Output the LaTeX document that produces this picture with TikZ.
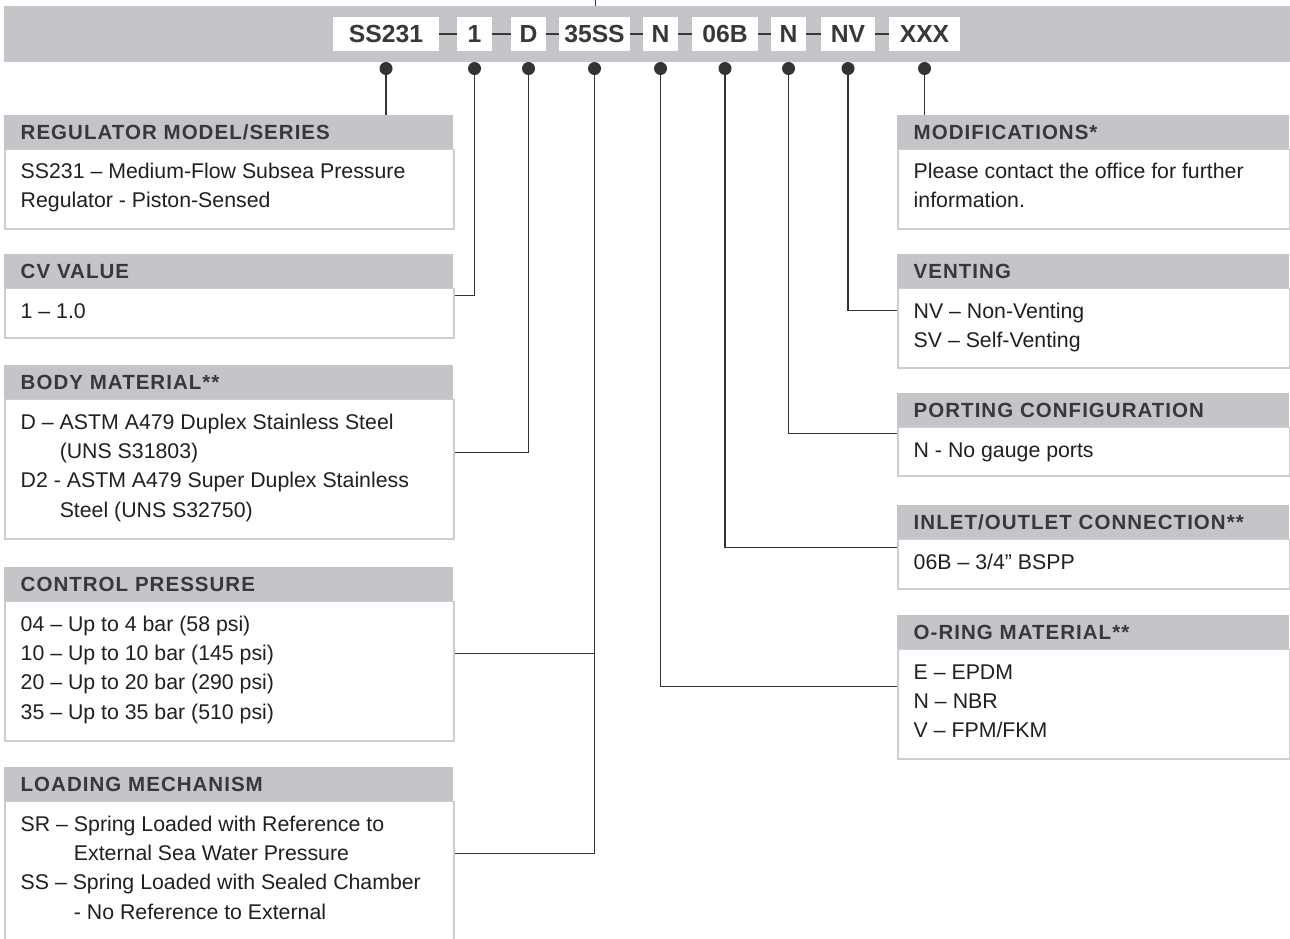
\documentclass[tikz,border=0pt]{standalone}
\usepackage{fontspec}
\setmainfont{Liberation Sans}
\newfontfamily\headfont[LetterSpace=5]{Liberation Sans}
\usepackage{tikz}
\usetikzlibrary{positioning}
\definecolor{bargray}{HTML}{C4C5C8}
\definecolor{boxline}{HTML}{CDCED0}
\definecolor{headtext}{HTML}{38383A}
\definecolor{bodytext}{HTML}{231F20}
\definecolor{leadgray}{HTML}{333333}
\tikzstyle{bullet}=[circle,fill=leadgray,inner sep=0,minimum size=13pt]
\tikzset{codebox/.style={
  rectangle,fill=white,inner sep=0,minimum height=34pt,
  text=headtext,font=\fontsize{24.7}{28}\selectfont\bfseries
}}
\tikzset{
  head/.style={
    rectangle,fill=bargray,anchor=north west,
    inner xsep=16.5pt,inner ysep=0,
    minimum height=33.5pt,text height=14.5pt,text depth=0pt,
    text width=#1,align=left,text=headtext,
    font=\headfont\fontsize{20.5}{23}\selectfont\bfseries
  }
}
\tikzset{
  body/.style={
    rectangle,draw=boxline,line width=1.5pt,fill=white,
    anchor=north west,inner sep=0
  }
}
\tikzset{
  info/.style={
    anchor=north west,inner sep=0,align=left,text=bodytext,
    font=\fontsize{21.3}{29.3}\selectfont
  }
}
\tikzset{wire/.style={draw=leadgray,line width=1.5pt}}
\tikzset{joint/.style={draw=headtext,line width=2.5pt}}
\newcommand{\firstline}{\rule{0pt}{16pt}}

\begin{document}
\begin{tikzpicture}[x=1pt,y=-1pt]
\useasboundingbox (0,0) rectangle (1290,938);

% code bar
\node[fill=bargray,inner sep=0,anchor=north west,minimum width=1286pt,minimum height=56pt] (bar) at (4,6) {};
\coordinate (tick) at (595,0);
\draw[wire,line width=1pt] (tick) -- (tick |- bar.north);

\node[codebox,minimum width=106pt] (cmodel) at (386,34) {SS231};
\node[codebox,minimum width=35pt] (ccv) at (474.5,34) {1};
\node[codebox,minimum width=35pt] (cmat) at (528.5,34) {D};
\node[codebox,minimum width=71pt] (cctrl) at (594.5,34) {35SS};
\node[codebox,minimum width=35pt] (coring) at (660.5,34) {N};
\node[codebox,minimum width=66pt] (cinlet) at (725,34) {06B};
\node[codebox,minimum width=35pt] (cport) at (788.5,34) {N};
\node[codebox,minimum width=54pt] (cvent) at (848,34) {NV};
\node[codebox,minimum width=71pt] (cmods) at (924.5,34) {XXX};

\draw[joint] (cmodel) -- (ccv);
\draw[joint] (ccv) -- (cmat);
\draw[joint] (cmat) -- (cctrl);
\draw[joint] (cctrl) -- (coring);
\draw[joint] (coring) -- (cinlet);
\draw[joint] (cinlet) -- (cport);
\draw[joint] (cport) -- (cvent);
\draw[joint] (cvent) -- (cmods);

\node[bullet] (pmodel) at (386,68.5) {};
\node[bullet] (pcv) at (474.5,68.5) {};
\node[bullet] (pmat) at (528.5,68.5) {};
\node[bullet] (pctrl) at (594.5,68.5) {};
\node[bullet] (poring) at (660.5,68.5) {};
\node[bullet] (pinlet) at (725,68.5) {};
\node[bullet] (pport) at (788.5,68.5) {};
\node[bullet] (pvent) at (848,68.5) {};
\node[bullet] (pmods) at (924.5,68.5) {};

% left column
\node[head=416pt] (modelH) at (4,115) {REGULATOR MODEL/SERIES};
\node[body,minimum width=449pt,minimum height=79.5pt] (modelB) at (modelH.south west) {};
\node[info] (modelT) at ([xshift=16.5pt,yshift=-13.5pt]modelB.north west)
  {\firstline SS231 – Medium-Flow Subsea Pressure\\Regulator - Piston-Sensed};

\node[head=416pt] (cvH) at (4,254) {CV VALUE};
\node[body,minimum width=449pt,minimum height=49.5pt] (cvB) at (cvH.south west) {};
\node[info] (cvT) at ([xshift=16.5pt,yshift=-14pt]cvB.north west) {\firstline 1 – 1.0};

\node[head=416pt] (matH) at (4,365) {BODY MATERIAL**};
\node[body,minimum width=449pt,minimum height=139.5pt] (matB) at (matH.south west) {};
\node[info] (matT) at ([xshift=16.5pt,yshift=-14pt]matB.north west)
  {\firstline D – ASTM A479 Duplex Stainless Steel\\\phantom{D – }(UNS S31803)\\
   D2 - ASTM A479 Super Duplex Stainless\\\phantom{D – }Steel (UNS S32750)};

\node[head=416pt] (ctrlH) at (4,567) {CONTROL PRESSURE};
\node[body,minimum width=449pt,minimum height=139.5pt] (ctrlB) at (ctrlH.south west) {};
\node[info] (ctrlT) at ([xshift=16.5pt,yshift=-14pt]ctrlB.north west)
  {\firstline 04 – Up to 4 bar (58 psi)\\10 – Up to 10 bar (145 psi)\\
   20 – Up to 20 bar (290 psi)\\35 – Up to 35 bar (510 psi)};

\node[head=416pt] (loadH) at (4,767) {LOADING MECHANISM};
\node[body,minimum width=449pt,minimum height=150pt] (loadB) at (loadH.south west) {};
\node[info] (loadT) at ([xshift=16.5pt,yshift=-14pt]loadB.north west)
  {\firstline SR – Spring Loaded with Reference to\\\phantom{SR – }External Sea Water Pressure\\
   SS – Spring Loaded with Sealed Chamber\\\phantom{SR – }- No Reference to External};

% right column
\node[head=359pt] (modsH) at (897,115) {MODIFICATIONS*};
\node[body,minimum width=392pt,minimum height=79.5pt] (modsB) at (modsH.south west) {};
\node[info] (modsT) at ([xshift=16.5pt,yshift=-13.5pt]modsB.north west)
  {\firstline Please contact the office for further\\information.};

\node[head=359pt] (ventH) at (897,254) {VENTING};
\node[body,minimum width=392pt,minimum height=79.5pt] (ventB) at (ventH.south west) {};
\node[info] (ventT) at ([xshift=16.5pt,yshift=-14pt]ventB.north west)
  {\firstline NV – Non-Venting\\SV – Self-Venting};

\node[head=359pt] (portH) at (897,393) {PORTING CONFIGURATION};
\node[body,minimum width=392pt,minimum height=48.5pt] (portB) at (portH.south west) {};
\node[info] (portT) at ([xshift=16.5pt,yshift=-14pt]portB.north west) {\firstline N - No gauge ports};

\node[head=359pt] (inletH) at (897,505) {INLET/OUTLET CONNECTION**};
\node[body,minimum width=392pt,minimum height=49.5pt] (inletB) at (inletH.south west) {};
\node[info] (inletT) at ([xshift=16.5pt,yshift=-14pt]inletB.north west) {\firstline 06B – 3/4” BSPP};

\node[head=359pt] (oringH) at (897,615) {O-RING MATERIAL**};
\node[body,minimum width=392pt,minimum height=109.5pt] (oringB) at (oringH.south west) {};
\node[info] (oringT) at ([xshift=16.5pt,yshift=-14pt]oringB.north west)
  {\firstline E – EPDM\\N – NBR\\V – FPM/FKM};

% leads
\coordinate (cvW) at ([yshift=-7.5pt]cvB.north east);
\coordinate (matW) at ([yshift=-53.5pt]matB.north east);
\coordinate (ctrlW) at ([yshift=-52.5pt]ctrlB.north east);
\coordinate (loadW) at ([yshift=-52.5pt]loadB.north east);
\coordinate (ventW) at ([yshift=-22.5pt]ventB.north west);
\coordinate (portW) at ([yshift=-6.5pt]portB.north west);
\coordinate (inletW) at ([yshift=-8.5pt]inletB.north west);
\coordinate (oringW) at ([yshift=-37.5pt]oringB.north west);

\draw[wire] (pmodel) -- (pmodel |- modelH.north);
\draw[wire] (pcv) |- (cvW);
\draw[wire] (pmat) |- (matW);
\draw[wire] (pctrl) |- (loadW);
\draw[wire] (ctrlW) -- (ctrlW -| pctrl);
\draw[wire] (poring) |- (oringW);
\draw[wire] (pinlet) |- (inletW);
\draw[wire] (pport) |- (portW);
\draw[wire] (pvent) |- (ventW);
\draw[wire] (pmods) -- (pmods |- modsH.north);

\end{tikzpicture}
\end{document}
